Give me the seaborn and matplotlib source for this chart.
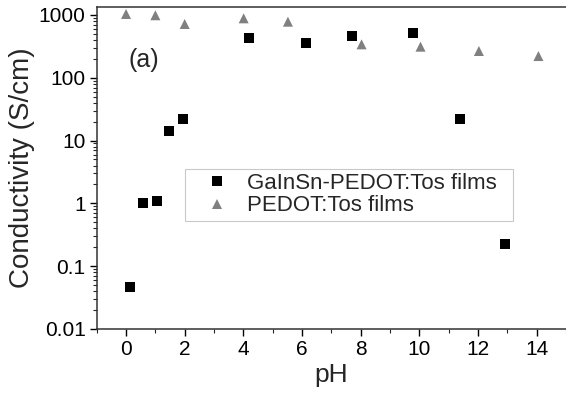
import numpy as np
import pandas as pd
import matplotlib
matplotlib.use("Agg")
import matplotlib.pyplot as plt
from matplotlib.ticker import FixedLocator, FixedFormatter, LogLocator, NullFormatter, MultipleLocator
import seaborn as sns

# Data
ph_gain = [0.14, 0.59, 1.04, 1.48, 1.93, 4.18, 6.12, 7.71, 9.80, 11.40, 12.92]
cond_gain = [0.046, 1.0, 1.10, 14.2, 21.8, 426, 354, 464, 511, 22.1, 0.226]
ph_pedot = [0.0, 1.0, 2.0, 4.01, 5.52, 8.03, 10.04, 12.03, 14.06]
cond_pedot = [1038, 990, 719, 885, 782, 341, 313, 267, 222]
series_names = ["GaInSn-PEDOT:Tos films", "PEDOT:Tos films"]
y_ticks = [0.01, 0.1, 1, 10, 100, 1000]
y_tick_labels = ["0.01", "0.1", "1", "10", "100", "1000"]
x_ticks = [0, 2, 4, 6, 8, 10, 12, 14]

df = pd.DataFrame({
    "pH": ph_gain + ph_pedot,
    "cond": cond_gain + cond_pedot,
    "series": [series_names[0]] * len(ph_gain) + [series_names[1]] * len(ph_pedot),
})

sns.set_style("ticks")
plt.rcParams["font.family"] = ["Liberation Sans", "DejaVu Sans"]

fig = plt.figure(figsize=(5.66, 3.96), dpi=100)
ax = fig.add_axes([96.7 / 566, (396 - 329) / 396, (566 - 96.7) / 566, (329 - 7) / 396])

sns.scatterplot(data=df, x="pH", y="cond", hue="series", style="series",
                hue_order=series_names, style_order=series_names,
                palette={series_names[0]: "black", series_names[1]: "#808080"},
                markers={series_names[0]: "s", series_names[1]: "^"},
                s=52, linewidth=0, ax=ax, legend=True)
ax.set_yscale("log")
ax.set_xlim(-1, 15)
ax.set_ylim(0.01, 1340)

ax.yaxis.set_major_locator(FixedLocator(y_ticks))
ax.yaxis.set_major_formatter(FixedFormatter(y_tick_labels))
ax.yaxis.set_minor_locator(LogLocator(base=10, subs=np.arange(2, 10)))
ax.yaxis.set_minor_formatter(NullFormatter())
ax.set_xticks(x_ticks)
ax.xaxis.set_minor_locator(MultipleLocator(1))

ax.tick_params(axis="both", which="major", direction="out", length=5, width=1,
               labelsize=15, colors="black", pad=3)
ax.tick_params(axis="both", which="minor", direction="out", length=3, width=0.8)

for side in ["left", "bottom", "top"]:
    ax.spines[side].set_color("#333333")
    ax.spines[side].set_linewidth(1.1)
ax.spines["right"].set_visible(False)

ax.set_xlabel("pH", fontsize=19, labelpad=3)
ax.set_ylabel("Conductivity (S/cm)", fontsize=20, labelpad=3)

ax.text(0.067, 0.835, "(a)", transform=ax.transAxes, fontsize=18, va="center", ha="left")

handles, labels = ax.get_legend_handles_labels()
leg = ax.legend(handles, labels, loc="center", bbox_to_anchor=(0.165, 0.328, 0.746, 0.178),
                mode="expand", fontsize=16, frameon=True, fancybox=False,
                edgecolor="#bbbbbb", handlelength=2.5, handletextpad=0.1, borderpad=0.2,
                labelspacing=0.05, markerscale=1.0)
leg.get_frame().set_linewidth(0.8)

fig.savefig("out.png", dpi=100)
